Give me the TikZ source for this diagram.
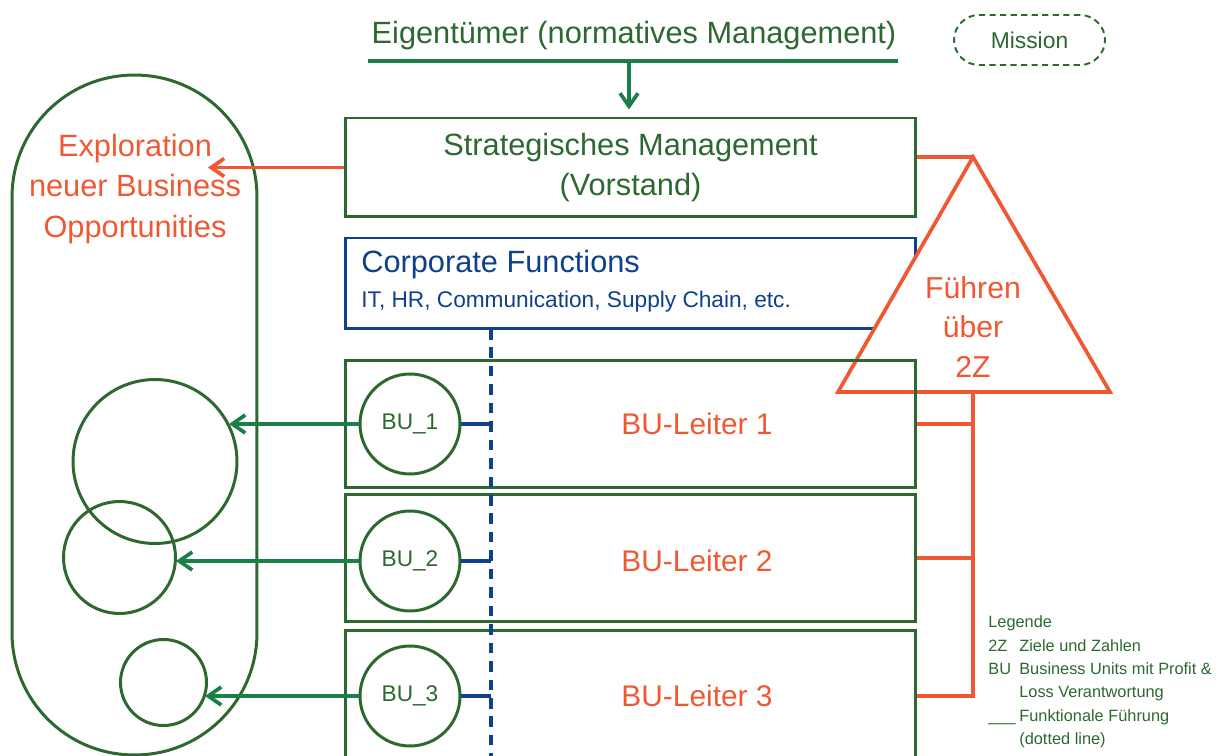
\documentclass[tikz,border=0pt]{standalone}
\usepackage{fontspec}
\setmainfont{Liberation Sans}
\usepackage{xcolor}
\usetikzlibrary{arrows.meta}
\usetikzlibrary{positioning}
\definecolor{darkgreen}{RGB}{44,104,48}
\definecolor{arrowgreen}{RGB}{27,128,72}
\definecolor{leadorange}{RGB}{240,88,52}
\definecolor{corpblue}{RGB}{14,64,140}
\tikzset{
    box/.style={
        draw=darkgreen,
        line width=1.7pt,
        minimum width=11.42cm,
        inner sep=0pt
    },
    bucircle/.style={
        draw=darkgreen,
        circle,
        line width=1.7pt,
        minimum size=2cm,
        inner sep=0pt,
        text=darkgreen,
        font=\fontsize{12.9}{15}\selectfont
    },
    unitcircle/.style={
        draw=darkgreen,
        circle,
        line width=1.7pt,
        inner sep=0pt
    },
    bigtext/.style={font=\fontsize{17.5}{22.7}\selectfont},
    greenarrow/.style={
        draw=arrowgreen,
        line width=2.1pt,
        -{Straight Barb[length=2.6mm, width=3.6mm]}
    },
    orangeline/.style={draw=leadorange, line width=2.1pt},
    blueline/.style={draw=corpblue, line width=2.1pt}
}

\begin{document}
\begin{tikzpicture}[x=0.02cm, y=-0.02cm]
    \clip (0,0) rectangle (1226,756);

    % Exploration area
    \node[draw=darkgreen, line width=1.7pt, rounded corners=2.44cm, minimum width=4.9cm, minimum height=13.6cm] (explore) at (134.5,415) {};
    \node[bigtext, text=leadorange, align=center, font=\fontsize{17.5}{23.2}\selectfont] (exploretext) at (135,189) {Exploration\\neuer Business\\Opportunities};
    \node[unitcircle, minimum size=3.28cm] (unit1) at (155,461.5) {};
    \node[unitcircle, minimum size=2.24cm] (unit2) at (119.5,557.5) {};
    \node[unitcircle, minimum size=1.72cm] (unit3) at (163.5,682.5) {};
    \coordinate (land1) at (229,424);
    \coordinate (land2) at (176,561);
    \coordinate (land3) at (205,696);

    % Eigentuemer
    \node[bigtext, text=darkgreen, anchor=base] (owner) at (634,44) {Eigentümer (normatives Management)};
    \coordinate (ownerL) at (368,61);
    \coordinate (ownerR) at (898,61);
    \coordinate (ownerM) at (629,61);
    \draw[arrowgreen, line width=2.1pt] (ownerL) -- (ownerR);
    \node[draw=darkgreen, dash pattern=on 3.5pt off 2.5pt, line width=1.1pt, rounded corners=0.5cm, minimum width=3.02cm, minimum height=1cm, text=darkgreen, font=\fontsize{13}{15}\selectfont] (mission) at (1029.5,40) {Mission};

    % Management boxes
    \node[box, minimum height=1.98cm, text=darkgreen, align=center, bigtext] (strat) at (630.5,167.5) {Strategisches Management\\(Vorstand)};
    \draw[greenarrow, shorten >=4pt] (ownerM) -- (ownerM |- strat.north);
    \draw[orangeline, -{Straight Barb[length=2.6mm, width=3.6mm]}] (strat.west) -- (strat.west -| 208,0);
    \node[box, draw=corpblue, minimum height=1.82cm] (corp) at (630.5,283.5) {};
    \node[text=corpblue, bigtext, anchor=base west, inner sep=0pt] (corptitle) at (361,273) {Corporate Functions};
    \node[text=corpblue, font=\fontsize{12.9}{15}\selectfont, anchor=base west, inner sep=0pt] (corpsub) at (361,308) {IT, HR, Communication, Supply Chain, etc.};

    % Fuehren ueber 2Z
    \coordinate (apex) at (973,157);
    \coordinate (baseL) at (838,392);
    \coordinate (baseR) at (1110,392);
    \coordinate (baseM) at (973,392);
    \draw[orangeline, fill=white, line join=miter] (apex) -- (baseR) -- (baseL) -- cycle;
    \node[text=leadorange, font=\fontsize{17.2}{22.7}\selectfont, align=center] (leadtext) at (973,327) {Führen\\über\\2Z};
    \draw[orangeline] (strat.east |- apex) -- (apex);

    % Business units
    \node[box, minimum height=2.56cm] (bu1) at (630.5,424) {};
    \node[box, minimum height=2.56cm] (bu2) at (630.5,558) {};
    \node[box, minimum height=2.64cm] (bu3) at (630.5,696) {};
    \coordinate (dashtop) at (491,329);
    \coordinate (dashend) at (491,760);
    \foreach \i/\y in {1/424, 2/561, 3/696} {
        \node[bucircle, fill=white] (c\i) at (410,\y) {BU\_\i};
        \node[text=leadorange, font=\fontsize{17}{20}\selectfont] (lead\i) at (697,\y) {BU-Leiter \i};
        \coordinate (dash\i) at (491,\y);
        \draw[blueline] (c\i) -- (dash\i);
        \draw[greenarrow] (c\i) -- (land\i);
    }
    \draw[blueline, dash pattern=on 6pt off 4.5pt] (dashtop) -- (dashend);

    % Orange bracket
    \draw[orangeline] (baseM) -- (bu3.east -| baseM) -- (bu3.east);
    \draw[orangeline] (bu1.east) -- (bu1.east -| baseM);
    \draw[orangeline] (bu2.east) -- (bu2.east -| baseM);

    % Legende
    \node[anchor=north west, inner sep=0pt, text=darkgreen, font=\fontsize{9.3}{13.3}\selectfont] (legend) at (988,611) {%
        \begin{tabular}{@{}p{0.62cm}@{}l@{}}
            \multicolumn{2}{@{}l@{}}{Legende}\\
            2Z & Ziele und Zahlen\\
            BU & Business Units mit Profit \&\\
               & Loss Verantwortung\\
            \_\_\_ & Funktionale Führung\\
               & (dotted line)
        \end{tabular}};
\end{tikzpicture}
\end{document}
